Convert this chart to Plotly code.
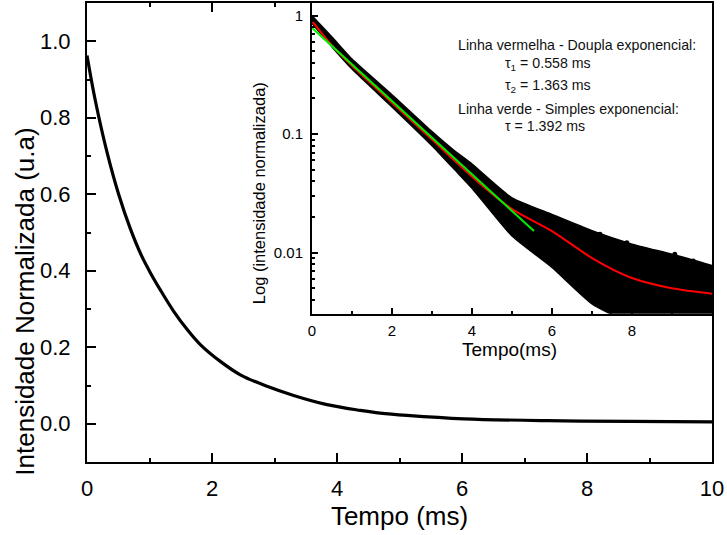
import plotly.graph_objects as go

# ---------------- data ----------------
# main panel (linear): normalized intensity vs time (ms)
main_t = [0, 0.133, 0.32, 0.506, 0.693, 0.87, 1.013, 1.173, 1.387, 1.6, 1.813,
          2.133, 2.453, 2.88, 3.306, 3.84, 4.373, 4.69, 5.12, 6.03, 7.36, 8.7, 10]
main_i = [0.963, 0.845, 0.71, 0.60, 0.51, 0.44, 0.395, 0.35, 0.294, 0.247, 0.207,
          0.163, 0.128, 0.098, 0.074, 0.050, 0.035, 0.028, 0.022, 0.013, 0.008, 0.006, 0.005]

# inset (log): envelope of the measured scatter cloud
band_t = [0, 0.5, 1, 2, 3, 3.57, 4, 5, 6, 7, 8, 9, 10]
band_hi = [1.0, 0.66, 0.43, 0.215, 0.105, 0.072, 0.056, 0.029, 0.021, 0.0153, 0.0118, 0.0097, 0.0078]
band_lo = [0.86, 0.545, 0.355, 0.17, 0.080, 0.050, 0.035, 0.0138, 0.0075, 0.0037, 0.0025, 0.002, 0.002]

# isolated points outside the cloud
dots_t = [5.27, 6.48, 7.13, 7.2, 7.87, 8.55, 9.07, 9.53]
dots_i = [0.0134, 0.00615, 0.00404, 0.0143, 0.0121, 0.0100, 0.0097, 0.0085]

# red line: double-exponential fit
red_t = [0, 0.5, 1, 1.91, 3, 4.23, 5, 6, 7, 8, 9, 10]
red_i = [0.90, 0.56, 0.377, 0.196, 0.090, 0.0375, 0.0233, 0.0152, 0.0090, 0.0061, 0.0050, 0.0045]

# green line: single-exponential fit
green_t = [0, 1.91, 5.55]
green_i = [0.79, 0.203, 0.0152]

# texts
main_xtitle = "Tempo (ms)"
main_ytitle = "Intensidade Normalizada (u.a)"
inset_xtitle = "Tempo(ms)"
inset_ytitle = "Log (intensidade normalizada)"
inset_yticks = [0.01, 0.1, 1]
inset_yticktext = ["0.01", "0.1", "1"]
notes = [
    ("Linha vermelha - Doupla exponencial:", 456, 43),
    ("τ<sub>1</sub> = 0.558 ms", 503, 62),
    ("τ<sub>2</sub> = 1.363 ms", 503, 84),
    ("Linha verde - Simples exponencial:", 456, 107),
    ("τ = 1.392 ms", 503, 125),
]

# ---------------- figure ----------------
W, H = 727, 535
L, R, T, B = 87, 15, 1, 73
PW, PH = W - L - R, H - T - B

SANS = "Liberation Sans, Arial, sans-serif"


def px_x(px):
    return (px - L) / PW


def px_y(py):
    return (H - B - py) / PH


fig = go.Figure()

fig.add_trace(go.Scatter(x=main_t, y=main_i, mode="lines",
                         line=dict(color="black", width=3.2, shape="spline", smoothing=1.0),
                         xaxis="x", yaxis="y", showlegend=False, hoverinfo="skip"))

fig.add_trace(go.Scatter(x=band_t, y=band_lo, mode="lines",
                         line=dict(color="black", width=1.5, shape="spline", smoothing=0.5),
                         xaxis="x2", yaxis="y2", showlegend=False, hoverinfo="skip"))
fig.add_trace(go.Scatter(x=band_t, y=band_hi, mode="lines",
                         line=dict(color="black", width=1.5, shape="spline", smoothing=0.5),
                         fill="tonexty", fillcolor="black",
                         xaxis="x2", yaxis="y2", showlegend=False, hoverinfo="skip"))
fig.add_trace(go.Scatter(x=dots_t, y=dots_i, mode="markers", marker=dict(color="black", size=5),
                         xaxis="x2", yaxis="y2", showlegend=False, hoverinfo="skip"))
fig.add_trace(go.Scatter(x=red_t, y=red_i, mode="lines",
                         line=dict(color="#ff0000", width=2, shape="spline", smoothing=0.8),
                         xaxis="x2", yaxis="y2", showlegend=False, hoverinfo="skip"))
fig.add_trace(go.Scatter(x=green_t, y=green_i, mode="lines", line=dict(color="#00ee00", width=2),
                         xaxis="x2", yaxis="y2", showlegend=False, hoverinfo="skip"))

axis_common = dict(showgrid=False, zeroline=False, showline=True, linecolor="black", linewidth=2,
                   ticks="inside", tickcolor="black", tickwidth=2)

fig.update_layout(
    width=W, height=H,
    margin=dict(l=L, r=R, t=T, b=B, pad=0),
    paper_bgcolor="white", plot_bgcolor="white",
    font=dict(family=SANS, color="black"),
    xaxis=dict(**axis_common, domain=[0, 1], range=[0, 10], tickmode="linear", tick0=0, dtick=2,
               ticklen=9, mirror="ticks",
               minor=dict(ticks="inside", ticklen=4, dtick=1, tickcolor="black", tickwidth=2),
               tickfont=dict(size=22, family=SANS), ticklabelstandoff=6,
               title=dict(text=main_xtitle, font=dict(size=26, family=SANS), standoff=4),
               anchor="y"),
    yaxis=dict(**axis_common, domain=[0, 1], range=[-0.1, 1.1], tickmode="linear", tick0=0, dtick=0.2,
               tickformat=".1f", ticklen=9, mirror=True,
               minor=dict(ticks="inside", ticklen=4, dtick=0.1, tickcolor="black", tickwidth=2),
               tickfont=dict(size=22, family=SANS), ticklabelstandoff=10,
               anchor="x"),
    xaxis2=dict(**axis_common, domain=[px_x(312), 1], range=[0, 10], tickmode="array",
                tickvals=[0, 2, 4, 6, 8], ticklen=6, mirror=True,
                minor=dict(ticks="inside", ticklen=3, tickvals=[1, 3, 5, 7, 9], tickcolor="black", tickwidth=2),
                tickfont=dict(size=15, family=SANS), ticklabelstandoff=2,
                anchor="y2"),
    yaxis2=dict(**axis_common, domain=[px_y(313), 1], type="log", range=[-2.515, 0.107],
                tickmode="array", tickvals=inset_yticks, ticktext=inset_yticktext, ticklen=6, mirror=True,
                minor=dict(ticks="inside", ticklen=3, dtick="D1", tickcolor="black", tickwidth=1.5),
                tickfont=dict(size=15, family=SANS), ticklabelstandoff=4,
                anchor="x2"),
)

# axis titles placed where the reference shows them
fig.add_annotation(text=main_ytitle, xref="paper", yref="paper", x=px_x(25), y=px_y(301),
                   xanchor="center", yanchor="middle", textangle=-90, showarrow=False,
                   font=dict(size=26, family=SANS, color="black"))
fig.add_annotation(text=inset_ytitle, xref="paper", yref="paper", x=px_x(259), y=px_y(192),
                   xanchor="center", yanchor="middle", textangle=-90, showarrow=False,
                   font=dict(size=16.5, family=SANS, color="black"))
fig.add_annotation(text=inset_xtitle, xref="paper", yref="paper", x=px_x(509), y=px_y(349),
                   xanchor="center", yanchor="middle", showarrow=False,
                   font=dict(size=19, family=SANS, color="black"))

for txt, px, py in notes:
    fig.add_annotation(text=txt, xref="paper", yref="paper",
                       x=px_x(px), y=px_y(py),
                       xanchor="left", yanchor="middle", showarrow=False,
                       font=dict(size=14.2, family=SANS, color="#111111"))

fig.write_html("out.html")
